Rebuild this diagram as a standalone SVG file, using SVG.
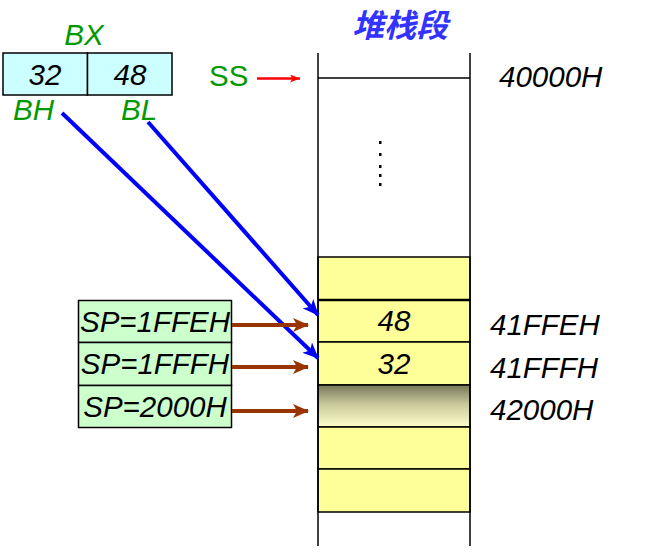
<svg xmlns="http://www.w3.org/2000/svg" width="654" height="560" viewBox="0 0 654 560">
<style>
  text { font-family: "Liberation Sans", Arial, "Noto Sans CJK SC", sans-serif; font-size: 29.5px; }
  .it { font-style: italic; }
  .green { fill: #009900; }
  .blk { fill: #000000; }
  .cell { fill: #FFFF99; stroke: #000; stroke-width: 1.5; }
  .bx { fill: #CCFFFF; stroke: #000; stroke-width: 1.5; }
  .sp { fill: #CCFFCC; stroke: #000; stroke-width: 1.5; }
  .blue { stroke: #0000FF; stroke-width: 4; fill: none; }
  .brown { stroke: #993300; stroke-width: 4; fill: none; }
  .red { stroke: #FF0000; stroke-width: 2.5; fill: none; }
</style>
<defs>
  <linearGradient id="shade" x1="0" y1="0" x2="0" y2="1">
    <stop offset="0" stop-color="#76765A"/>
    <stop offset="0.45" stop-color="#C8C89A"/>
    <stop offset="1" stop-color="#FFFFCC"/>
  </linearGradient>
  <marker id="mBlue" viewBox="0 0 16 14" refX="15" refY="7" markerWidth="16" markerHeight="14" markerUnits="userSpaceOnUse" orient="auto">
    <path d="M0,0 L16,7 L0,14 L4,7 Z" fill="#0000FF"/>
  </marker>
  <marker id="mBrown" viewBox="0 0 16 14" refX="15" refY="7" markerWidth="16" markerHeight="14" markerUnits="userSpaceOnUse" orient="auto">
    <path d="M0,0 L16,7 L0,14 L4,7 Z" fill="#993300"/>
  </marker>
  <marker id="mRed" viewBox="0 0 10 8" refX="10" refY="4" markerWidth="10" markerHeight="8" markerUnits="userSpaceOnUse" orient="auto">
    <path d="M0,0 L10,4 L0,8 L2.5,4 Z" fill="#FF0000"/>
  </marker>
</defs>
<rect width="654" height="560" fill="#FFFFFF"/>

<g id="title">
  <text x="400" y="37" text-anchor="middle" font-weight="bold" font-style="italic" fill="#3333FF" style="font-size:32px">堆栈段</text>
</g>

<g id="stack">
  <rect x="318" y="257" width="152" height="43" class="cell"/>
  <rect x="318" y="300" width="152" height="42" class="cell"/>
  <rect x="318" y="342" width="152" height="43" class="cell"/>
  <rect x="318" y="385" width="152" height="42" fill="url(#shade)" stroke="#000" stroke-width="1.5"/>
  <rect x="318" y="427" width="152" height="42" class="cell"/>
  <rect x="318" y="469" width="152" height="43" class="cell"/>
  <line x1="318" y1="300" x2="470" y2="300" stroke="#000" stroke-width="2.5"/>
  <line x1="318" y1="53" x2="318" y2="546" stroke="#000" stroke-width="1.5"/>
  <line x1="470" y1="53" x2="470" y2="546" stroke="#000" stroke-width="1.5"/>
  <line x1="318" y1="78" x2="470" y2="78" stroke="#000" stroke-width="1.5"/>
  <g fill="#000">
    <rect x="379" y="141" width="2.5" height="3"/>
    <rect x="379" y="153" width="2.5" height="3"/>
    <rect x="379" y="165" width="2.5" height="3"/>
    <rect x="379" y="174" width="2.5" height="3"/>
    <rect x="379" y="183" width="2.5" height="3"/>
  </g>
  <text x="394" y="331" text-anchor="middle" class="it blk">48</text>
  <text x="394" y="374" text-anchor="middle" class="it blk">32</text>
</g>

<g id="addresses">
  <text x="499" y="87" class="it blk">40000H</text>
  <text x="490" y="335" class="it blk">41FFEH</text>
  <text x="490" y="378" class="it blk">41FFFH</text>
  <text x="490" y="420" class="it blk">42000H</text>
</g>

<g id="bx">
  <text x="84" y="45" text-anchor="middle" class="it green">BX</text>
  <rect x="3" y="53" width="84.5" height="42" class="bx"/>
  <rect x="87.5" y="53" width="84.5" height="42" class="bx"/>
  <text x="45" y="85" text-anchor="middle" class="it blk">32</text>
  <text x="130" y="85" text-anchor="middle" class="it blk">48</text>
  <text x="13" y="120" class="it green">BH</text>
  <text x="121" y="120" class="it green">BL</text>
</g>

<g id="ss">
  <text x="209" y="86" class="green">SS</text>
</g>

<g id="sp">
  <rect x="78.5" y="300.5" width="153" height="42" class="sp"/>
  <rect x="78.5" y="342.5" width="153" height="43" class="sp"/>
  <rect x="78.5" y="385.5" width="153" height="42" class="sp"/>
  <text x="155" y="332" text-anchor="middle" class="it blk">SP=1FFEH</text>
  <text x="155" y="374" text-anchor="middle" class="it blk">SP=1FFFH</text>
  <text x="155" y="417" text-anchor="middle" class="it blk">SP=2000H</text>
</g>

<g id="connectors">
  <line x1="257" y1="78.5" x2="300" y2="78.5" class="red" marker-end="url(#mRed)"/>
  <line x1="62" y1="113" x2="318" y2="358" class="blue" marker-end="url(#mBlue)"/>
  <line x1="148" y1="122" x2="318" y2="315" class="blue" marker-end="url(#mBlue)"/>
  <line x1="232" y1="325" x2="308" y2="325" class="brown" marker-end="url(#mBrown)"/>
  <line x1="232" y1="367" x2="308" y2="367" class="brown" marker-end="url(#mBrown)"/>
  <line x1="232" y1="411" x2="308" y2="411" class="brown" marker-end="url(#mBrown)"/>
</g>
</svg>
